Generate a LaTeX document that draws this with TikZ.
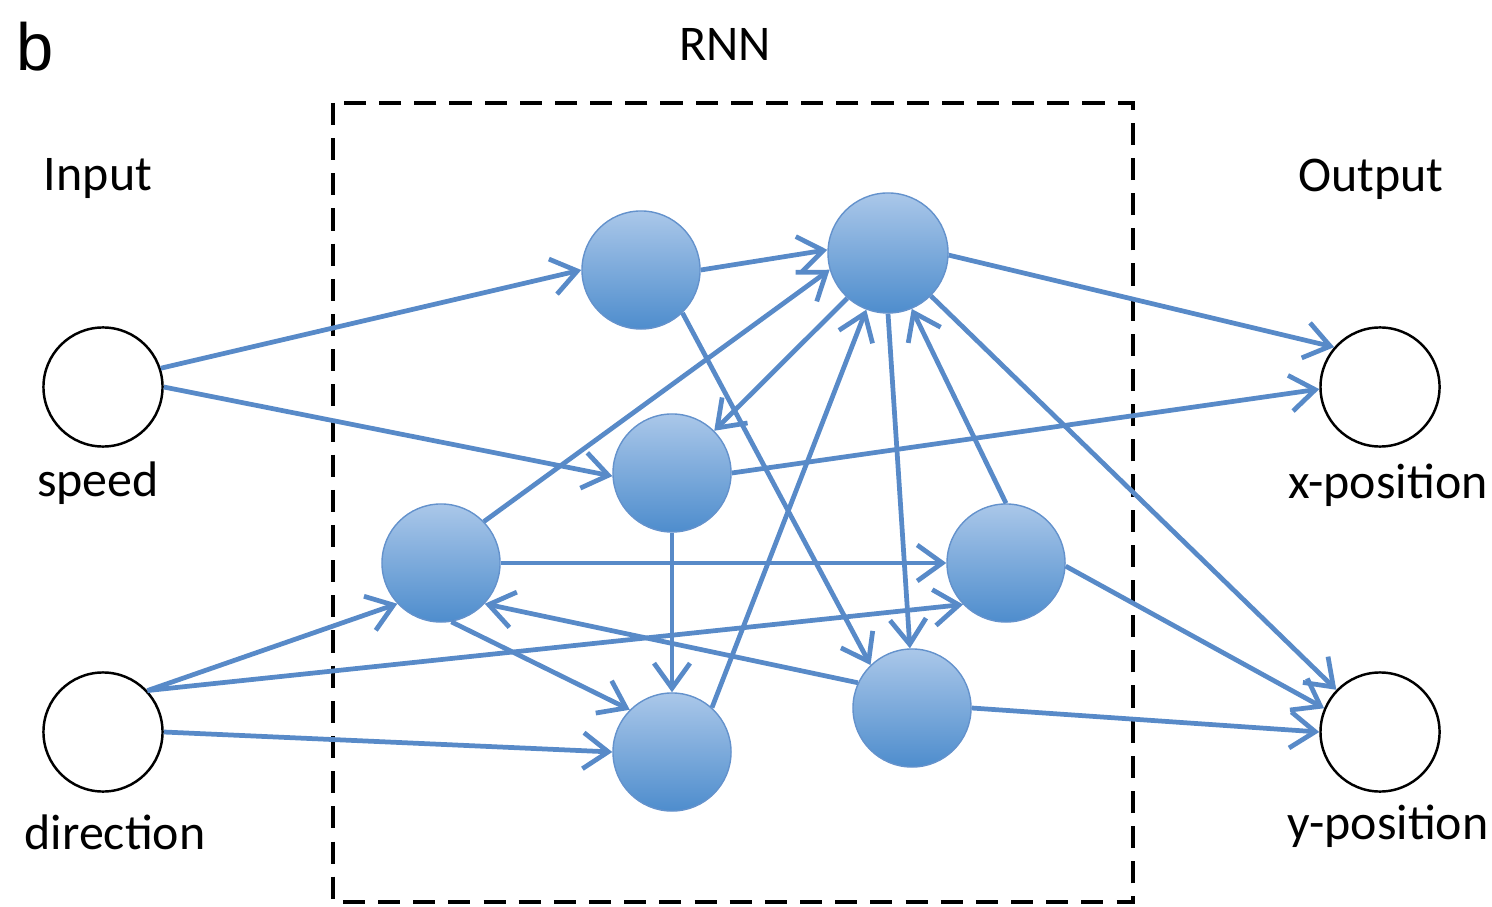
\documentclass[tikz,border=0pt]{standalone}
\usepackage{fontspec}
\setmainfont{Carlito}
\newfontfamily\labfont{Liberation Sans}
\usetikzlibrary{arrows.meta}
\definecolor{edgec}{RGB}{88,138,200}
\definecolor{ntop}{RGB}{170,199,233}
\definecolor{nbot}{RGB}{78,141,205}
\definecolor{nbord}{RGB}{100,146,204}
\tikzset{
  hid/.style={circle, minimum size=1.18cm, inner sep=0pt, top color=ntop, bottom color=nbot, draw=nbord, line width=0.4pt},
  io/.style={circle, minimum size=1.19cm, inner sep=0pt, draw=black, fill=white, line width=0.7pt},
  lab/.style={font=\fontsize{14.2}{17}\selectfont, inner sep=0pt},
  conn/.style={draw=edgec, line width=1.35pt, -{Straight Barb[length=2.5mm,width=3.6mm,line width=1.35pt]}},
}
\begin{document}
\begin{tikzpicture}[x=0.01cm,y=-0.01cm]
\useasboundingbox (0,0) rectangle (1492,907);
% box
\draw[black, line width=1.1pt, dash pattern=on 6.3pt off 3.7pt] (333,103) rectangle (1133,902);
% texts
\node[inner sep=0pt, font=\labfont\fontsize{19}{22}\selectfont] (blab) at (35,47) {b};
\node[lab] (rnn) at (725,44) {RNN};
\node[lab] (inp) at (98,179) {Input};
\node[lab] (outp) at (1371,179) {Output};
% io nodes
\node[io] (speed) at (103,387) {};
\node[io] (dir) at (103,732) {};
\node[io] (xpos) at (1380,387) {};
\node[io] (ypos) at (1380,732) {};
\node[lab] (speedl) at (98,483) {speed};
\node[lab] (dirl) at (115,832) {direction};
\node[lab] (xposl) at (1388,485) {x-position};
\node[lab] (yposl) at (1388,826) {y-position};
% hidden nodes
\node[hid] (A) at (641,270) {};
\node[hid, minimum size=1.2cm] (B) at (888,253) {};
\node[hid] (C) at (672,473) {};
\node[hid] (D) at (441,563) {};
\node[hid] (E) at (1006,563) {};
\node[hid] (F) at (912,708) {};
\node[hid] (G) at (672,752) {};
% connectors
\draw[conn] (speed.18) -- (A.180);
\draw[conn] (speed.0) -- (C.183);
\draw[conn] (A.0) -- (B.177);
\draw[conn] (A.-46) -- (F.134);
\draw[conn] (D.44) -- (B.196);
\draw[conn] (B.228) -- (C.45);
\draw[conn] (G.48) -- (B.249);
\draw[conn] (B.270) -- (F.92);
\draw[conn] (E.90) -- (B.293);
\draw[conn] (B.358) -- (xpos.139);
\draw[conn] (B.-45) -- (ypos.136);
\draw[conn] (C.0) -- (xpos.182);
\draw[conn] (C.270) -- (G.90);
\draw[conn] (D.0) -- (E.180);
\draw[conn] (D.-80) -- (G.135);
\draw[conn] (dir.43) -- (D.223);
\draw[conn] (dir.43) -- (E.224);
\draw[conn] (dir.0) -- (G.180);
\draw[conn] (F.155) -- (D.-43);
\draw[conn] (E.-3) -- (ypos.157);
\draw[conn] (F.0) -- (ypos.180);
\end{tikzpicture}
\end{document}
